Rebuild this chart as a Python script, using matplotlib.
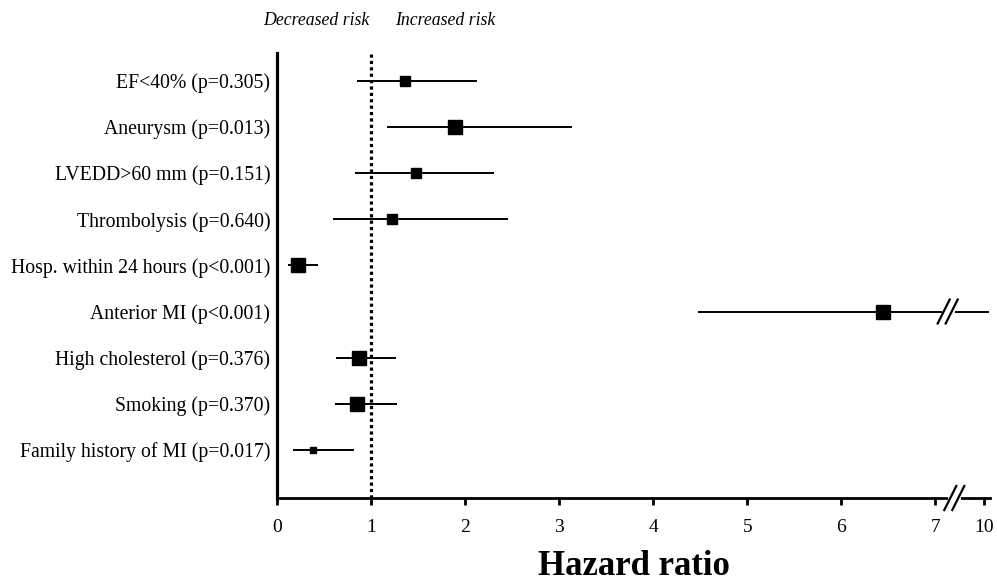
import matplotlib
matplotlib.use("Agg")
import matplotlib.pyplot as plt

# rows from top to bottom
labels = [
    "EF<40% (p=0.305)",
    "Aneurysm (p=0.013)",
    "LVEDD>60 mm (p=0.151)",
    "Thrombolysis (p=0.640)",
    "Hosp. within 24 hours (p<0.001)",
    "Anterior MI (p<0.001)",
    "High cholesterol (p=0.376)",
    "Smoking (p=0.370)",
    "Family history of MI (p=0.017)",
]
hr = [1.36, 1.89, 1.48, 1.22, 0.22, 6.44, 0.87, 0.85, 0.38]
ci_low = [0.85, 1.17, 0.83, 0.59, 0.11, 4.47, 0.63, 0.61, 0.17]
ci_high = [2.12, 3.13, 2.31, 2.45, 0.43, 10.3, 1.26, 1.27, 0.82]
box_size = [7, 10, 7, 7, 10, 9.5, 10, 9.5, 4.5]

tick_values = [0, 1, 2, 3, 4, 5, 6, 7, 10]
BREAK = 7
SQUEEZE = 0.52 / 3  # 7..10 is compressed after the break


def to_x(v):
    if v <= BREAK:
        return v
    return BREAK + (v - BREAK) * SQUEEZE


SERIF = "Liberation Serif"
plt.rcParams["font.family"] = SERIF

fig = plt.figure(figsize=(9.97, 5.82), dpi=100)
ax = fig.add_axes([0.278, 0.1443, 0.715, 0.7647])

n = len(labels)
ys = list(range(n, 0, -1))

for y, h, lo, hi, s in zip(ys, hr, ci_low, ci_high, box_size):
    ax.plot([to_x(lo), to_x(hi)], [y, y], color="black", lw=1.4, zorder=2,
            clip_on=False, solid_capstyle="butt")
    ax.plot(to_x(h), y, marker="s", ms=s, color="black", zorder=3)

xmax = 7.58
ax.set_xlim(0, xmax)
ax.set_ylim(-0.04, n + 0.6)

# reference line at HR = 1
ax.plot([1, 1], [-0.04, n + 0.6], color="black", lw=2.3,
        linestyle=(0, (1, 1)), zorder=1, clip_on=False)

ax.spines["top"].set_visible(False)
ax.spines["right"].set_visible(False)
ax.spines["left"].set_linewidth(2.3)
ax.spines["bottom"].set_linewidth(2.0)

ax.set_yticks(ys)
ax.set_yticklabels(labels, fontsize=14.2)
ax.tick_params(axis="y", length=0, pad=5)

ax.set_xticks([to_x(v) for v in tick_values])
ax.set_xticklabels([str(v) for v in tick_values], fontsize=14)
ax.tick_params(axis="x", length=5, width=2, pad=10, direction="out")

ax.set_xlabel("Hazard ratio", fontsize=25, fontweight="bold", labelpad=10)

# break marks
bx = 7.2
px_x = xmax / 713.0
px_y = (n + 0.64) / 445.0


def draw_break(xc, yc):
    gap = 4
    ax.plot([xc - gap * px_x, xc + gap * px_x], [yc, yc], color="white",
            lw=3.5, clip_on=False, zorder=4)
    for off in (-gap, gap):
        x0 = xc + (off - 6) * px_x
        x1 = xc + (off + 6) * px_x
        ax.plot([x0, x1], [yc - 12 * px_y, yc + 12 * px_y], color="black",
                lw=1.6, clip_on=False, zorder=5)


draw_break(bx, -0.04)
draw_break(bx - 0.07, ys[5])

fig.text(0.371, 0.965, "Decreased risk", fontsize=12.8, style="italic",
         ha="right", va="center")
fig.text(0.396, 0.965, "Increased risk", fontsize=12.8, style="italic",
         ha="left", va="center")

fig.savefig("out.png", dpi=100)
